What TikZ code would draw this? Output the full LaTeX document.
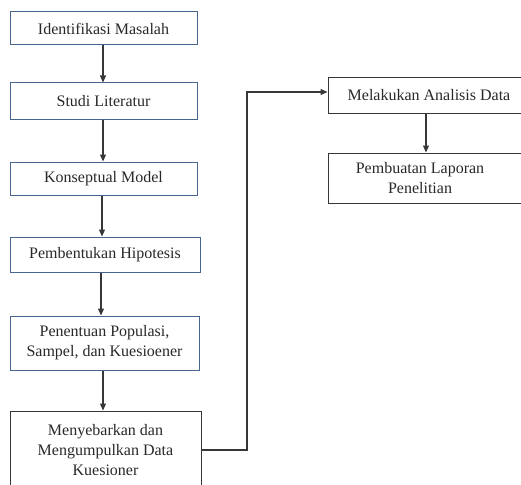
\documentclass[tikz,border=0pt]{standalone}
\usepackage{fontspec}
\setmainfont{Liberation Serif}
\usetikzlibrary{arrows.meta}
\definecolor{bluebord}{RGB}{72,100,145}
\definecolor{darkbord}{RGB}{55,55,55}
\definecolor{txt}{RGB}{40,40,40}
\tikzset{
  box/.style={draw=bluebord, line width=1pt, rectangle, inner sep=0pt, align=center, text=txt, font=\fontsize{16}{20}\selectfont},
  dbox/.style={box, draw=darkbord},
  arr/.style={draw=darkbord, line width=1.2pt, -{Triangle[length=7pt,width=6pt]}},
  lbl/.style={inner sep=0pt, align=center, text=txt, font=\fontsize{16}{20}\selectfont}
}
\begin{document}
\begin{tikzpicture}[x=1pt,y=-1pt]
\useasboundingbox (0,0) rectangle (521,484);
\clip (0,0) rectangle (521,484);
\node[box, minimum width=187pt, minimum height=33pt] (b1) at (103.5,28.5) {Identifikasi Masalah};
\node[box, minimum width=187pt, minimum height=36pt] (b2) at (103.5,101) {Studi Literatur};
\node[box, minimum width=187pt, minimum height=33pt] (b3) at (103.5,178.5) {Konseptual Model};
\node[box, minimum width=190pt, minimum height=35pt] (b4) at (105,254.5) {Pembentukan Hipotesis};
\node[box, minimum width=189pt, minimum height=54pt] (b5) at (104.5,343) {Penentuan Populasi,\\Sampel, dan Kuesioener};
\node[dbox, minimum width=191pt, minimum height=78pt] (b6) at (105.5,450) {Menyebarkan dan\\Mengumpulkan Data\\Kuesioner};
\node[dbox, minimum width=202pt, minimum height=35pt] (r1) at (429,95.5) {Melakukan Analisis Data};
\node[dbox, minimum width=202pt, minimum height=50pt] (r2) at (429,178) {};
\node[lbl] (r2t) at (420,178) {Pembuatan Laporan\\Penelitian};
\draw[arr] (b1.south -| 103,0) -- (b2.north -| 103,0);
\draw[arr] (b2.south -| 103,0) -- (b3.north -| 103,0);
\draw[arr] (b3.south -| 102,0) -- (b4.north -| 102,0);
\draw[arr] (b4.south -| 101,0) -- (b5.north -| 101,0);
\draw[arr] (b5.south -| 103,0) -- (b6.north -| 103,0);
\coordinate (k) at (247,92);
\draw[arr] (b6.east) -| (k) -- (k -| r1.west);
\draw[arr] (r1.south -| 426,0) -- (r2.north -| 426,0);
\end{tikzpicture}
\end{document}
